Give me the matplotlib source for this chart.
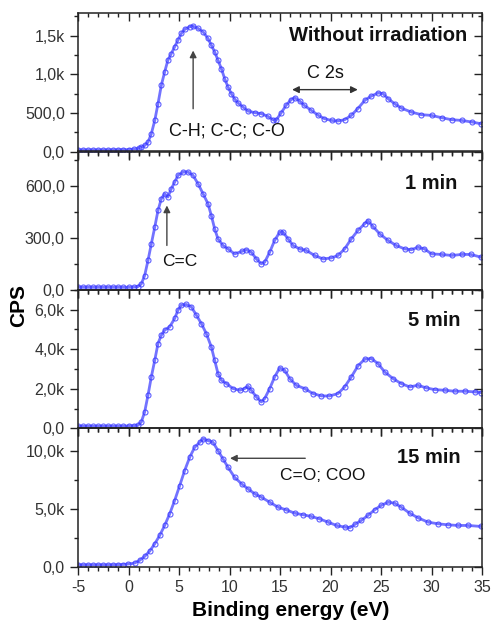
import numpy as np
import matplotlib
matplotlib.use("Agg")
import matplotlib.pyplot as plt
from matplotlib.ticker import MultipleLocator, FuncFormatter

plt.rcParams['font.family'] = ['Liberation Sans', 'DejaVu Sans']
plt.rcParams['axes.unicode_minus'] = False

# spectra (binding energy in eV, counts per second)
e_raw = [-5, -4.5, -4, -3.5, -3, -2.5, -2, -1.5, -1, -0.5, 0, 0.5, 1.0, 1.27, 1.6, 1.93, 2.26, 2.6, 2.92,
         3.25, 3.58, 3.9, 4.24, 4.57, 4.9, 5.23, 5.56, 6.06, 6.39, 6.88, 7.38, 7.87, 8.2, 8.53, 8.86, 9.19,
         9.52, 9.85, 10.18, 10.5, 10.84, 11.34, 11.83, 12.5, 13.15, 13.8, 14.3, 14.6, 15.1, 15.6, 16.1,
         16.45, 16.95, 17.4, 18.1, 18.8, 19.4, 20.1, 20.7, 21.4, 22.06, 22.7, 23.4, 24.0, 24.7, 25.2, 25.7,
         26.35, 27.0, 28.0, 29.0, 30.0, 31.0, 32.0, 33.0, 34.0, 34.9]
cps_raw = [20, 20, 20, 20, 20, 20, 20, 21, 22, 23, 25, 30, 40, 56, 78, 121, 229, 402, 618,
           856, 1029, 1181, 1267, 1354, 1440, 1527, 1579, 1613, 1622, 1592, 1548, 1462, 1375, 1289, 1181, 1073,
           943, 835, 748, 683, 627, 575, 523, 502, 489, 454, 411, 402, 497, 597, 670,
           696, 653, 597, 532, 467, 424, 402, 394, 411, 467, 554, 662, 714, 757, 748, 683,
           618, 562, 510, 476, 467, 437, 411, 402, 381, 359]

e_1min = [-5, -4.5, -4, -3.5, -3, -2.5, -2, -1.5, -1, -0.5, 0, 0.5, 0.94, 1.27, 1.6, 1.93, 2.26, 2.6, 2.92,
          3.25, 3.58, 3.9, 4.24, 4.57, 4.9, 5.4, 5.9, 6.39, 6.88, 7.38, 7.87, 8.2, 8.53, 8.86, 9.36, 9.85,
          10.5, 11.2, 11.67, 12.16, 12.66, 13.15, 13.48, 13.98, 14.47, 14.97, 15.3, 15.8, 16.29, 16.95,
          17.6, 18.43, 19.26, 20.08, 20.74, 21.4, 22.06, 22.72, 23.38, 23.7, 24.2, 24.87, 25.7, 26.5,
          27.34, 28.0, 28.66, 29.3, 30.0, 31.0, 32.0, 33.0, 33.9, 34.9]
cps_1min = [15, 15, 15, 15, 15, 15, 15, 15, 15, 15, 15, 16, 19, 35, 83, 170, 266, 363, 459,
            527, 556, 537, 585, 623, 662, 681, 681, 662, 614, 556, 498, 430, 353, 295, 257, 237,
            208, 222, 232, 218, 179, 151, 160, 218, 286, 334, 334, 295, 257, 237,
            228, 199, 179, 185, 199, 237, 295, 344, 382, 401, 367, 324, 286, 257,
            237, 232, 247, 237, 208, 205, 199, 205, 205, 189]

e_5min = [-5, -4.5, -4, -3.5, -3, -2.5, -2, -1.5, -1, -0.5, 0, 0.5, 0.94, 1.27, 1.6, 1.93, 2.26, 2.6, 2.92,
          3.25, 3.58, 4.08, 4.57, 4.9, 5.23, 5.73, 6.22, 6.72, 7.21, 7.7, 8.2, 8.53, 8.86, 9.19, 9.69,
          10.35, 11.0, 11.5, 11.83, 12.16, 12.66, 13.15, 13.48, 13.98, 14.47, 14.97, 15.46, 15.96, 16.6,
          17.44, 18.27, 19.1, 19.9, 20.74, 21.4, 22.06, 22.72, 23.38, 24.04, 24.7, 25.36, 26.19, 27.0,
          27.84, 28.66, 29.5, 30.3, 31.3, 32.3, 33.3, 34.3, 34.9]
cps_5min = [100, 100, 100, 100, 100, 100, 100, 100, 100, 110, 120, 130, 150, 320, 827, 1671, 2600, 3444, 4288,
            4710, 4963, 5132, 5554, 5976, 6229, 6263, 6144, 5722, 5300, 4794, 4119, 3444, 2768, 2431, 2262,
            2009, 1924, 2009, 2127, 1924, 1587, 1334, 1502, 2009, 2600, 3055, 2937, 2515, 2178,
            2009, 1755, 1637, 1637, 1755, 2093, 2600, 3157, 3494, 3528, 3275, 2853, 2515, 2262,
            2093, 2178, 2042, 1958, 1924, 1874, 1874, 1840, 1806]

e_15min = [-5, -4.5, -4, -3.5, -3, -2.5, -2, -1.5, -1, -0.5, -0.05, 0.61, 1.1, 1.6, 2.1, 2.6, 3.09, 3.58,
           4.08, 4.57, 5.07, 5.56, 6.06, 6.55, 7.05, 7.38, 7.87, 8.37, 8.86, 9.36, 9.85, 10.5, 11.2, 11.83,
           12.5, 13.15, 13.98, 14.8, 15.6, 16.45, 17.3, 18.1, 18.9, 19.75, 20.6, 21.4, 21.9, 22.4, 23.05,
           23.7, 24.37, 25.0, 25.7, 26.35, 27.0, 27.84, 28.66, 29.65, 30.64, 31.6, 32.6, 33.6, 34.9]
cps_15min = [150, 150, 150, 150, 150, 150, 150, 160, 170, 190, 230, 317, 548, 894, 1355, 1990, 2711, 3576,
             4586, 5739, 7037, 8335, 9488, 10354, 10786, 11075, 10930, 10786, 10065, 9344, 8623, 7758, 7181, 6749,
             6316, 6028, 5595, 5162, 4932, 4643, 4499, 4355, 4153, 3865, 3576, 3432, 3374, 3663, 4009,
             4441, 4932, 5307, 5595, 5508, 5162, 4643, 4239, 3865, 3720, 3634, 3576, 3576, 3490]

panel_names = ["Without irradiation", "1 min", "5 min", "15 min"]
series = [(e_raw, cps_raw), (e_1min, cps_1min), (e_5min, cps_5min), (e_15min, cps_15min)]
y_tops = [1790, 800, 7000, 12000]
y_major = [500, 300, 2000, 5000]
y_minor = [250, 150, 1000, 2500]
name_pos = [(0.963, 0.84), (0.938, 0.77), (0.946, 0.776), (0.946, 0.79)]


def cps_fmt(v, pos):
    if abs(v) >= 1000:
        return f"{v/1000:.1f}k".replace('.', ',')
    return f"{v:.1f}".replace('.', ',')


fig = plt.figure(figsize=(4.93, 6.26), dpi=100)
x0, w = 78 / 493, 404 / 493
h = 138.4 / 626
bottom0 = 1 - 566.7 / 626
line_col = (0.22, 0.22, 1.0)
axes = []
for i, ((e, c), name) in enumerate(zip(series, panel_names)):
    ax = fig.add_axes([x0, bottom0 + (3 - i) * h, w, h])
    ax.patch.set_visible(False)
    ax.plot(e, c, '-', color=line_col, lw=2.0, alpha=0.7)
    ax.plot(e, c, 'o', ms=3.6, mfc='none', mec=line_col, mew=0.8, alpha=0.8)
    ax.set_xlim(-5, 35)
    ax.set_ylim(0, y_tops[i])
    ax.xaxis.set_major_locator(MultipleLocator(5))
    ax.xaxis.set_minor_locator(MultipleLocator(1))
    ax.yaxis.set_major_locator(MultipleLocator(y_major[i]))
    ax.yaxis.set_minor_locator(MultipleLocator(y_minor[i]))
    ax.yaxis.set_major_formatter(FuncFormatter(cps_fmt))
    ax.tick_params(which='both', left=True, right=True, top=True, bottom=True, colors='#222',
                   labelcolor='#333', labelsize=11.5, width=1)
    ax.tick_params(which='major', length=6)
    ax.tick_params(which='minor', length=3)
    ax.tick_params(axis='both', which='both', direction='out')
    for s in ax.spines.values():
        s.set_linewidth(1.1)
        s.set_color('#222')
    if i < 3:
        ax.tick_params(axis='x', labelbottom=False)
    ax.text(name_pos[i][0], name_pos[i][1], name, transform=ax.transAxes, ha='right', va='center',
            fontsize=14.5, fontweight='bold', color='#111')
    axes.append(ax)

# right and top ticks point inward, left and bottom outward
for ax in axes:
    for t in ax.yaxis.get_major_ticks() + ax.yaxis.get_minor_ticks():
        t.tick1line.set_marker(matplotlib.lines.TICKLEFT)
        t.tick2line.set_marker(matplotlib.lines.TICKLEFT)
    for t in ax.xaxis.get_major_ticks() + ax.xaxis.get_minor_ticks():
        t.tick1line.set_marker(matplotlib.lines.TICKDOWN)
        t.tick2line.set_marker(matplotlib.lines.TICKDOWN)

arrow_kw = dict(arrowstyle='-|>', color='#444', lw=1.0, mutation_scale=10, shrinkA=0, shrinkB=0)
ax1, ax2, ax3, ax4 = axes
ax1.annotate('', xy=(6.4, 1306), xytext=(6.4, 553), arrowprops=arrow_kw)
ax1.text(9.75, 267, "C-H; C-C; C-O", ha='center', va='center', fontsize=13, color='#111')
ax1.annotate('', xy=(16.2, 800), xytext=(22.7, 800),
             arrowprops=dict(arrowstyle='<|-|>', color='#333', lw=1.0, mutation_scale=10, shrinkA=0, shrinkB=0))
ax1.text(19.5, 1012, "C 2s", ha='center', va='center', fontsize=13, color='#111')
ax2.annotate('', xy=(3.8, 488), xytext=(3.8, 257), arrowprops=arrow_kw)
ax2.text(5.1, 164, "C=C", ha='center', va='center', fontsize=12.5, color='#111')
ax4.annotate('', xy=(10.05, 9400), xytext=(17.5, 9400), arrowprops=arrow_kw)
ax4.text(19.2, 7930, "C=O; COO", ha='center', va='center', fontsize=12.5, color='#111')

fig.text(0.037, 1 - 305 / 626, "CPS", rotation=90, ha='center', va='center', fontsize=15, fontweight='bold')
fig.text(291 / 493, 1 - 611 / 626, "Binding energy (eV)", ha='center', va='center', fontsize=15,
         fontweight='bold')

fig.savefig("out.png", dpi=100)
